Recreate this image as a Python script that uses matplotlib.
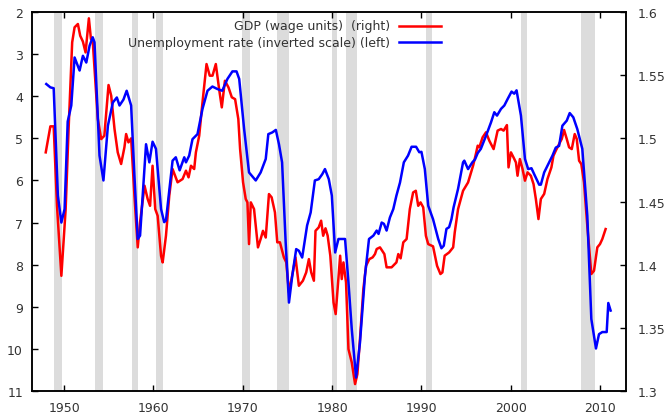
import matplotlib
matplotlib.use("Agg")
import matplotlib.pyplot as plt
from matplotlib.ticker import FuncFormatter

# unemployment rate, % (left axis, inverted)
unemp_years = [1948.0, 1948.46, 1948.83, 1949.3, 1949.69, 1950.05, 1950.4, 1950.8, 1951.17, 1951.73,
               1952.1, 1952.48, 1952.85, 1953.2, 1953.4, 1953.96, 1954.4, 1954.9, 1955.45, 1955.9,
               1956.2, 1956.64, 1957.0, 1957.5, 1957.87, 1958.24, 1958.5, 1959.17, 1959.54, 1959.9,
               1960.28, 1960.85, 1961.2, 1961.4, 1962.14, 1962.5, 1962.93, 1963.45, 1963.64, 1964.0,
               1964.37, 1964.93, 1965.49, 1966.05, 1966.6, 1967.17, 1967.7, 1968.28, 1968.84, 1969.3,
               1969.6, 1970.15, 1970.7, 1971.45, 1972.0, 1972.57, 1972.86, 1973.3, 1973.7, 1974.05,
               1974.4, 1974.8, 1975.17, 1975.54, 1975.98, 1976.28, 1976.65, 1977.2, 1977.6, 1978.07,
               1978.5, 1978.9, 1979.2, 1979.63, 1979.97, 1980.34, 1980.71, 1981.45, 1981.83, 1982.2,
               1982.68, 1983.12, 1983.68, 1984.13, 1984.62, 1984.99, 1985.2, 1985.55, 1985.8, 1986.1,
               1986.47, 1986.85, 1987.2, 1987.6, 1988.03, 1988.5, 1988.9, 1989.4, 1989.76, 1990.0,
               1990.38, 1990.76, 1991.3, 1991.88, 1992.24, 1992.5, 1992.8, 1993.1, 1993.36, 1993.6,
               1994.1, 1994.66, 1994.8, 1995.22, 1995.7, 1996.0, 1996.3, 1996.65, 1997.23, 1997.79,
               1998.16, 1998.46, 1998.91, 1999.28, 1999.64, 2000.09, 2000.39, 2000.65, 2001.14, 2001.59,
               2001.95, 2002.32, 2002.62, 2003.18, 2003.37, 2003.74, 2004.3, 2004.67, 2005.04, 2005.41,
               2005.78, 2006.27, 2006.6, 2007.0, 2007.45, 2008.01, 2008.57, 2009.02, 2009.54, 2009.88,
               2010.25, 2010.74, 2010.92, 2011.18]
unemp = [3.71, 3.79, 3.81, 6.36, 7.0, 6.68, 4.6, 4.22, 3.08, 3.39,
         3.04, 3.2, 2.8, 2.6, 2.72, 5.41, 6.0, 4.7, 4.15, 4.03,
         4.22, 4.08, 3.87, 4.22, 5.89, 7.39, 7.31, 5.14, 5.57, 5.08,
         5.25, 6.68, 6.99, 6.95, 5.53, 5.45, 5.76, 5.45, 5.57, 5.41,
         5.02, 4.9, 4.3, 3.87, 3.77, 3.83, 3.87, 3.59, 3.41, 3.41,
         3.59, 4.78, 5.81, 6.0, 5.81, 5.49, 4.9, 4.86, 4.8, 5.14,
         5.57, 7.47, 8.9, 8.26, 7.63, 7.67, 7.83, 7.07, 6.76, 6.0,
         5.97, 5.85, 5.73, 5.97, 6.36, 7.71, 7.39, 7.39, 8.42, 9.53,
         10.68, 9.85, 8.26, 7.39, 7.31, 7.19, 7.27, 7.0, 7.03, 7.19,
         6.88, 6.68, 6.36, 6.05, 5.57, 5.41, 5.2, 5.2, 5.33, 5.32,
         5.73, 6.6, 6.92, 7.39, 7.61, 7.55, 7.15, 7.11, 6.92, 6.64,
         6.2, 5.57, 5.53, 5.73, 5.57, 5.5, 5.35, 5.25, 4.94, 4.62,
         4.38, 4.46, 4.3, 4.22, 4.07, 3.89, 3.94, 3.86, 4.46, 5.49,
         5.73, 5.71, 5.85, 6.1, 6.1, 5.81, 5.57, 5.41, 5.22, 5.18,
         4.7, 4.58, 4.4, 4.5, 4.78, 5.25, 6.84, 9.29, 9.99, 9.65,
         9.6, 9.6, 8.91, 9.09]

# GDP in wage units (right axis)
gdp_years = [1947.94, 1948.46, 1948.83, 1949.2, 1949.69, 1950.17, 1950.5, 1950.9, 1951.17, 1951.54,
             1951.8, 1952.1, 1952.4, 1952.77, 1953.0, 1953.2, 1953.77, 1954.15, 1954.5, 1954.97,
             1955.27, 1955.64, 1956.0, 1956.38, 1956.75, 1956.94, 1957.2, 1957.5, 1957.87, 1958.24,
             1958.5, 1959.0, 1959.35, 1959.62, 1959.9, 1960.2, 1960.47, 1960.85, 1961.03, 1961.4,
             1961.77, 1962.14, 1962.7, 1963.26, 1963.64, 1963.93, 1964.2, 1964.56, 1964.75, 1965.12,
             1965.49, 1965.94, 1966.3, 1966.61, 1966.98, 1967.35, 1967.65, 1968.0, 1968.4, 1968.77,
             1969.14, 1969.5, 1969.7, 1970.03, 1970.33, 1970.52, 1970.7, 1970.9, 1971.26, 1971.7,
             1972.0, 1972.26, 1972.57, 1972.93, 1973.23, 1973.6, 1973.86, 1974.16, 1974.6, 1974.87,
             1975.17, 1975.6, 1975.9, 1976.28, 1976.73, 1977.1, 1977.4, 1977.66, 1977.96, 1978.14,
             1978.5, 1978.77, 1979.0, 1979.26, 1979.5, 1979.8, 1980.16, 1980.4, 1980.9, 1981.08,
             1981.27, 1981.56, 1981.83, 1982.2, 1982.57, 1982.83, 1983.12, 1983.5, 1983.8, 1984.17,
             1984.54, 1984.8, 1984.99, 1985.36, 1985.85, 1986.1, 1986.66, 1987.2, 1987.41, 1987.67,
             1987.97, 1988.34, 1988.7, 1989.07, 1989.37, 1989.64, 1989.9, 1990.2, 1990.5, 1990.76,
             1991.3, 1991.75, 1992.13, 1992.35, 1992.6, 1993.1, 1993.55, 1993.73, 1994.1, 1994.66,
             1995.22, 1995.78, 1996.05, 1996.3, 1996.48, 1996.85, 1997.23, 1997.6, 1998.08, 1998.53,
             1998.91, 1999.2, 1999.57, 1999.75, 2000.02, 2000.31, 2000.58, 2000.76, 2001.02, 2001.32,
             2001.59, 2001.88, 2002.25, 2002.55, 2002.81, 2003.1, 2003.37, 2003.74, 2004.11, 2004.55,
             2004.78, 2005.04, 2005.41, 2005.71, 2005.97, 2006.27, 2006.53, 2006.83, 2007.16, 2007.39,
             2007.65, 2007.9, 2008.2, 2008.57, 2009.02, 2009.32, 2009.69, 2009.99, 2010.25, 2010.62]
gdp = [1.4889, 1.5095, 1.5095, 1.4466, 1.3912, 1.444, 1.5074, 1.576, 1.5879, 1.5905,
       1.5812, 1.5766, 1.568, 1.595, 1.5786, 1.577, 1.5153, 1.4994, 1.502, 1.5422,
       1.5337, 1.5074, 1.4889, 1.4797, 1.4929, 1.5034, 1.4968, 1.5, 1.4546, 1.4137,
       1.4335, 1.4625, 1.452, 1.4466, 1.4783, 1.444, 1.4387, 1.407, 1.4018, 1.4229,
       1.4546, 1.4757, 1.4652, 1.4678, 1.4744, 1.4691, 1.4783, 1.4757, 1.4889, 1.502,
       1.5285, 1.5588, 1.5496, 1.5496, 1.5588, 1.539, 1.5245, 1.5456, 1.5403, 1.5325,
       1.531, 1.5153, 1.4915, 1.4652, 1.452, 1.4493, 1.4163, 1.4493, 1.444, 1.4137,
       1.4203, 1.4268, 1.4215, 1.4559, 1.4533, 1.4414, 1.4177, 1.4177, 1.4058, 1.4018,
       1.3781, 1.3939, 1.4058, 1.3833, 1.3873, 1.3939, 1.4044, 1.3939, 1.3873, 1.4268,
       1.4295, 1.4348, 1.4229, 1.4288, 1.423, 1.4071, 1.3701, 1.3609, 1.4071, 1.3886,
       1.4018, 1.3859, 1.3332, 1.3226, 1.3055, 1.3134, 1.3411, 1.3807, 1.3991, 1.4044,
       1.4058, 1.4084, 1.4124, 1.4137, 1.4084, 1.3979, 1.3979, 1.4018, 1.4084, 1.405,
       1.4177, 1.4203, 1.444, 1.4572, 1.4585, 1.4466, 1.4493, 1.4454, 1.4229, 1.4163,
       1.4145, 1.3991, 1.3926, 1.3939, 1.4071, 1.4097, 1.4137, 1.4256, 1.444, 1.4585,
       1.4651, 1.4783, 1.4862, 1.4942, 1.4929, 1.5008, 1.5048, 1.4981, 1.4915, 1.5061,
       1.5074, 1.5061, 1.5105, 1.477, 1.4889, 1.4849, 1.4809, 1.4704, 1.4836, 1.4757,
       1.4665, 1.4731, 1.4704, 1.4638, 1.452, 1.4361, 1.452, 1.456, 1.4678, 1.477,
       1.4862, 1.4902, 1.4955, 1.4995, 1.5066, 1.4995, 1.4929, 1.4915, 1.5034, 1.4995,
       1.4823, 1.4796, 1.4651, 1.4308, 1.3926, 1.3952, 1.4137, 1.4163, 1.4203, 1.4282]

# NBER recessions (start, end)
rec_start = [1948.83, 1953.5, 1957.58, 1960.25, 1969.92, 1973.83, 1980.0, 1981.5, 1990.5, 2001.17, 2007.92]
rec_end = [1949.75, 1954.33, 1958.25, 1961.08, 1970.83, 1975.17, 1980.5, 1982.83, 1991.17, 2001.83, 2009.42]

txt = '#333333'
plt.rcParams['font.family'] = 'DejaVu Sans'
plt.rcParams['font.size'] = 9

fig = plt.figure(figsize=(6.69, 4.14), dpi=100)
ax = fig.add_axes([0.0478, 0.0531, 0.8879, 0.9155])
ax2 = ax.twinx()

# bands + red on the lower axes, blue on top
for s, e in zip(rec_start, rec_end):
    ax2.axvspan(s, e, color='#dcdcdc', lw=0, zorder=0)
ax2.plot(gdp_years, gdp, color='#ff0000', lw=1.8, zorder=2)
ax.plot(unemp_years, unemp, color='#0000ff', lw=1.8, zorder=3)
ax.set_zorder(ax2.get_zorder() + 1)
ax.patch.set_visible(False)

ax.set_xlim(1946.4, 2012.9)
ax.set_ylim(11, 2)
ax2.set_ylim(1.3, 1.6)
ax.set_xticks(range(1950, 2011, 10))
ax.set_yticks(range(2, 12))
ax2.set_yticks([1.3, 1.35, 1.4, 1.45, 1.5, 1.55, 1.6])
ax2.yaxis.set_major_formatter(FuncFormatter(lambda v, p: '%g' % v))

ax.tick_params(axis='x', direction='in', length=4, width=1, top=True, bottom=True,
               pad=7, labelcolor=txt, labelsize=9)
ax.tick_params(axis='y', direction='in', length=4, width=1, left=True, right=False,
               pad=6.5, labelcolor=txt, labelsize=9)
ax2.tick_params(axis='y', direction='in', length=4, width=1, pad=8.5,
                labelcolor=txt, labelsize=9)
for a in (ax, ax2):
    for sp in a.spines.values():
        sp.set_linewidth(1.1)
        sp.set_color('black')

# legend: right-aligned text with sample line after it
leg = [("GDP (wage units)  (right)", '#ff0000', 0.9639),
       ("Unemployment rate (inverted scale) (left)", '#0000ff', 0.92)]
for label, col, yy in leg:
    ax.text(0.6027, yy, label, transform=ax.transAxes, ha='right', va='center',
            color=txt, fontsize=9)
    ax.plot([0.618, 0.6886], [yy, yy], transform=ax.transAxes, color=col, lw=1.8,
            clip_on=False)

fig.savefig('out.png', dpi=100)
